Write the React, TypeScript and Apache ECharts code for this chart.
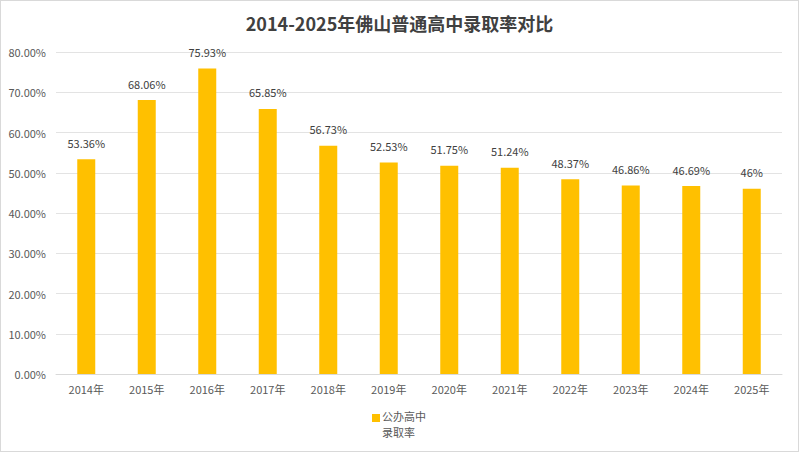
import { useRef, useEffect } from "react";
import * as echarts from "echarts";

const years = ["2014年", "2015年", "2016年", "2017年", "2018年", "2019年", "2020年", "2021年", "2022年", "2023年", "2024年", "2025年"];
const rates = [53.36, 68.06, 75.93, 65.85, 56.73, 52.53, 51.75, 51.24, 48.37, 46.86, 46.69, 46];
const rateLabels = ["53.36%", "68.06%", "75.93%", "65.85%", "56.73%", "52.53%", "51.75%", "51.24%", "48.37%", "46.86%", "46.69%", "46%"];
const legendLines = ["公办高中", "录取率"];

const FONT = "'Microsoft YaHei', 'Noto Sans CJK SC', sans-serif";

export default function App() {
  const chartRef = useRef<HTMLDivElement>(null);

  useEffect(() => {
    if (!chartRef.current) return;
    const chart = echarts.init(chartRef.current, null, { renderer: "svg" });

    chart.setOption({
      animation: false,
      backgroundColor: "#fff",
      title: {
        text: "2014-2025年佛山普通高中录取率对比",
        left: "center",
        top: 8,
        textStyle: { fontFamily: FONT, fontSize: 18, fontWeight: "bold", color: "#404040" },
      },
      grid: { left: 55, right: 16, top: 51, bottom: 77 },
      // legend drawn by hand so the swatch sits beside the first line
      graphic: [
        {
          type: "rect",
          left: 371,
          top: 413,
          shape: { width: 8, height: 8 },
          style: { fill: "#FFC000" },
        },
        ...legendLines.map((line, i) => ({
          type: "text",
          left: 381,
          top: 409 + i * 16,
          style: { text: line, font: `11px ${FONT}`, fill: "#595959" },
        })),
      ],
      xAxis: {
        type: "category",
        data: years,
        axisLine: { lineStyle: { color: "#d9d9d9" } },
        axisTick: { show: false },
        axisLabel: { fontFamily: FONT, fontSize: 11, color: "#595959", margin: 9 },
      },
      yAxis: {
        type: "value",
        min: 0,
        max: 80,
        interval: 10,
        axisLine: { show: false },
        axisTick: { show: false },
        splitLine: { lineStyle: { color: "#e3e3e3" } },
        axisLabel: {
          fontFamily: FONT,
          fontSize: 11,
          color: "#595959",
          margin: 10,
          formatter: (v: number) => v.toFixed(2) + "%",
        },
      },
      series: [
        {
          name: legendLines.join(""),
          type: "bar",
          data: rates,
          barWidth: 18,
          itemStyle: { color: "#FFC000" },
          label: {
            show: true,
            position: "top",
            distance: 11,
            fontFamily: FONT,
            fontSize: 11,
            color: "#404040",
            formatter: (p: { dataIndex: number }) => rateLabels[p.dataIndex],
          },
        },
      ],
    });

    return () => {
      chart.dispose();
    };
  }, []);

  return (
    <div
      style={{
        position: "absolute",
        left: 0,
        top: 0,
        width: 799,
        height: 452,
        boxSizing: "border-box",
        border: "1px solid #d9d9d9",
      }}
    >
      <div ref={chartRef} style={{ width: "100%", height: "100%" }} />
    </div>
  );
}
